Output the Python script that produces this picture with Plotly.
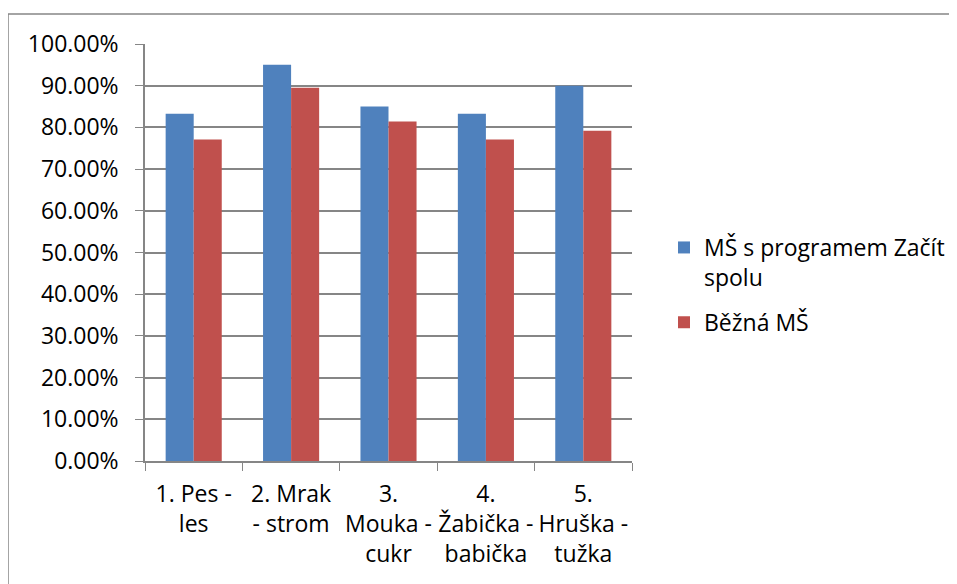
import plotly.graph_objects as go

categories = ["1. Pes -<br>les", "2. Mrak<br>- strom", "3.<br>Mouka -<br>cukr",
              "4.<br>Žabička -<br>babička", "5.<br>Hruška -<br>tužka"]
zacit_spolu = [0.833, 0.950, 0.850, 0.833, 0.900]
bezna_ms = [0.771, 0.895, 0.814, 0.771, 0.792]

series_names = ["MŠ s programem Začít<br>spolu", "Běžná MŠ"]
colors = ["#4F81BD", "#C0504D"]

W, H = 957, 584
OFF = 8  # page body margin shifts the figure by this much
L, R, T, B = 145 - OFF, 632 - OFF, 44 - OFF, 461 - OFF  # plot area in pixels


def px_x(px):
    return (px - OFF - L) / (R - L)


def px_y(py):
    return (B - (py - OFF)) / (B - T)


font = dict(family="Open Sans, Noto Sans, sans-serif", size=23, color="#000000")
axis_color = "#868686"

fig = go.Figure()
for i, (name, vals, col) in enumerate(zip(series_names, [zacit_spolu, bezna_ms], colors)):
    fig.add_trace(go.Bar(x=categories, y=vals, name=name, marker_color=col,
                         marker_line_width=0, legendgroup=f"g{i}"))

fig.update_layout(
    width=W, height=H,
    margin=dict(l=L, r=W - R, t=T, b=H - B, pad=0),
    paper_bgcolor="white", plot_bgcolor="white",
    font=font,
    barmode="group", bargap=0.424, bargroupgap=0,
    legend=dict(x=px_x(664), xanchor="left", y=px_y(285), yanchor="middle",
                valign="top", font=font, bgcolor="rgba(0,0,0,0)",
                traceorder="grouped", tracegroupgap=12),
    shapes=[
        dict(type="line", xref="paper", yref="paper", x0=px_x(8), x1=px_x(1000),
             y0=px_y(14), y1=px_y(14), line=dict(color=axis_color, width=1.5)),
        dict(type="line", xref="paper", yref="paper", x0=px_x(8), x1=px_x(8),
             y0=px_y(14), y1=px_y(700), line=dict(color=axis_color, width=1.5)),
    ],
)
fig.update_yaxes(range=[0, 1], dtick=0.1, tickformat=".2%", showgrid=True,
                 gridcolor=axis_color, gridwidth=1.5, showline=True,
                 linecolor=axis_color, linewidth=1.5, ticks="outside", ticklen=8,
                 tickcolor=axis_color, ticklabelstandoff=12, zeroline=False)
fig.update_xaxes(showline=True, linecolor=axis_color, linewidth=1.5, ticks="outside",
                 tickson="boundaries", ticklen=8, tickcolor=axis_color,
                 ticklabelstandoff=12, tickangle=0)

fig.write_html("out.html")
